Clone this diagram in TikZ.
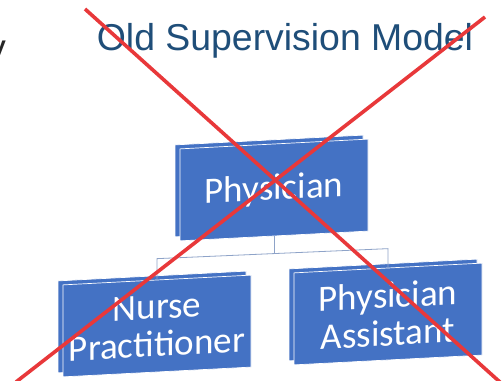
\documentclass[tikz,border=0pt]{standalone}
\usepackage{fontspec}
\setmainfont{Carlito}
\newfontfamily\arialfont{Liberation Sans}
\usetikzlibrary{shadows,calc}
\definecolor{ocblue}{HTML}{4472C4}
\definecolor{ocnavy}{HTML}{1F4E79}
\definecolor{ocwire}{HTML}{8EA3C8}
\definecolor{ocred}{HTML}{E8383A}
\definecolor{ocink}{HTML}{262626}
\tikzset{
  ocbox/.style={draw=white, line width=0.7pt, fill=ocblue, text=white, align=center,
    minimum width=188pt, minimum height=92pt, inner sep=0pt, yslant=0.052,
    font=\fontsize{37}{38}\selectfont,
    copy shadow={shadow xshift=-5pt, shadow yshift=4pt}},
  ocwire/.style={draw=ocwire, line width=0.8pt},
  occross/.style={draw=ocred, line width=3.6pt}
}
\begin{document}
\begin{tikzpicture}[x=1pt, y=1pt]
\useasboundingbox[fill=white] (0,0) rectangle (503,380);
\node[font=\arialfont\fontsize{37}{40}\selectfont, text=ocink, inner sep=0pt, anchor=base east] (cut) at (6,319) {y};
\node[font=\arialfont\fontsize{37.4}{40}\selectfont, text=ocnavy, inner sep=0pt, anchor=base] (title) at (285,329) {Old Supervision Model};
\node[ocbox] (phys) at (274,190) {Physician};
\node[ocbox] (np) at (157,54) {Nurse\\Practitioner};
\node[ocbox] (pa) at (388,66) {Physician\\Assistant};
\draw[ocwire] (phys.south) -- ($(phys.south)!0.5!(phys.south |- np.north)+(0,4)$);
\draw[ocwire] (np.north) -- ++(0,21) -- ([yshift=19pt]pa.north) -- (pa.north);
\draw[occross] (85,371) -- (501,-3);
\draw[occross] (485,363) -- (16,-2);
\end{tikzpicture}
\end{document}
